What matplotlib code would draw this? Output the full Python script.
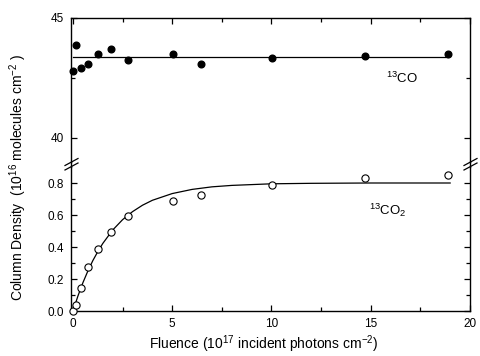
import matplotlib
matplotlib.use('Agg')
import matplotlib.pyplot as plt
from matplotlib.lines import Line2D

# fluence (1e17 photons cm^-2), shared by both species
fluence = [0.0, 0.13, 0.38, 0.76, 1.24, 1.90, 2.77, 5.06, 6.43, 10.03, 14.71, 18.89]

# 13CO column density (1e16 molecules cm^-2), filled circles
co_density = [42.79, 43.88, 42.93, 43.08, 43.49, 43.71, 43.24, 43.49, 43.10, 43.32, 43.40, 43.50]
co_fit_x = [0.0, 18.89]
co_fit_y = [43.38, 43.38]

# 13CO2 column density, open circles
co2_density = [0.0, 0.04, 0.144, 0.274, 0.387, 0.495, 0.591, 0.689, 0.725, 0.787, 0.831, 0.852]
# fit curve
co2_fit_x = [0.0, 0.25, 0.5, 0.75, 1.0, 1.25, 1.5, 2.0, 2.5, 3.0, 3.5, 4.0, 5.0, 6.0, 7.0, 8.0, 10.0, 12.0, 15.0, 19.0]
co2_fit_y = [0.0, 0.094, 0.177, 0.250, 0.315, 0.371, 0.422, 0.506, 0.571, 0.621, 0.661,
             0.692, 0.734, 0.760, 0.776, 0.785, 0.795, 0.798, 0.800, 0.800]

plt.rcParams['font.family'] = ['Liberation Sans', 'DejaVu Sans']
plt.rcParams['mathtext.fontset'] = 'custom'
plt.rcParams['mathtext.rm'] = 'Liberation Sans'
plt.rcParams['mathtext.it'] = 'Liberation Sans'

W, H = 481, 356
fig = plt.figure(figsize=(W / 100, H / 100), dpi=100)

left, right = 71 / W, 470 / W
ax_top = fig.add_axes([left, 1 - 162 / H, right - left, 144 / H])
ax_bot = fig.add_axes([left, 1 - 311 / H, right - left, 144 / H])

for ax in (ax_top, ax_bot):
    ax.set_xlim(-0.1, 20)
    ax.set_xticks([0, 5, 10, 15, 20])
    ax.set_xticks([2.5, 7.5, 12.5, 17.5], minor=True)
    ax.tick_params(which='both', direction='in', width=0.9, labelsize=8.5, pad=5)
    ax.tick_params(which='major', length=4)
    ax.tick_params(which='minor', length=3)
    for s in ax.spines.values():
        s.set_linewidth(1.0)

# top panel: 13CO
ax_top.plot(co_fit_x, co_fit_y, color='black', lw=0.9)
ax_top.plot(fluence, co_density, 'o', color='black', ms=4.8, clip_on=False, zorder=3)
ax_top.set_ylim(39, 45)
ax_top.set_yticks([40, 45])
ax_top.set_yticks([42.5], minor=True)
ax_top.spines['bottom'].set_visible(False)
ax_top.tick_params(which='both', bottom=False, labelbottom=False, top=True, right=True)
ax_top.text(15.75, 42.5, r'$^{13}$CO', fontsize=9.5, va='center')

# bottom panel: 13CO2
ax_bot.plot(co2_fit_x, co2_fit_y, color='black', lw=0.9)
ax_bot.plot(fluence, co2_density, 'o', mfc='white', mec='black', mew=0.8, ms=5.2,
            clip_on=False, zorder=3)
ax_bot.set_ylim(0, 0.9)
ax_bot.set_yticks([0.0, 0.2, 0.4, 0.6, 0.8])
ax_bot.set_yticks([0.1, 0.3, 0.5, 0.7], minor=True)
ax_bot.spines['top'].set_visible(False)
ax_bot.tick_params(which='both', top=False, right=True)
ax_bot.text(14.9, 0.63, r'$^{13}$CO$_2$', fontsize=9.5, va='center')

# continue spines through the gap and draw break marks
for xp in (71, 470):
    fig.add_artist(Line2D([xp / W, xp / W], [1 - 167 / H, 1 - 162 / H], color='black', lw=1.0))
    for dy in (0, 4.5):
        fig.add_artist(Line2D([(xp - 6) / W, (xp + 7) / W],
                              [1 - (170 - dy) / H, 1 - (163 - dy) / H], color='black', lw=0.9))

fig.text(18 / W, 1 - 178 / H, r'Column Density  (10$^{16}$ molecules cm$^{-2}$ )',
         rotation=90, ha='center', va='center', fontsize=10)
fig.text(264 / W, 1 - 344 / H, r'Fluence (10$^{17}$ incident photons cm$^{-2}$)',
         ha='center', va='center', fontsize=10)

fig.savefig('out.png', dpi=100)
